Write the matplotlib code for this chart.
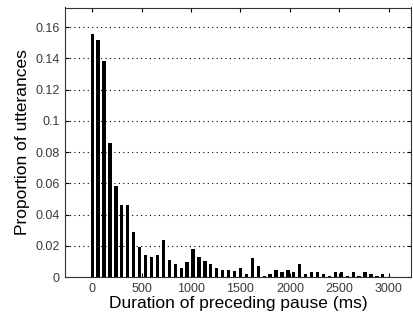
import numpy as np
import matplotlib
matplotlib.use('Agg')
from matplotlib import pyplot as plt

# pause bins (ms), 60 ms wide
pause_ms = np.arange(0, 3000, 60)
# proportion of utterances for each bin
proportion = [
    0.1555, 0.152, 0.138, 0.0855, 0.058, 0.0463, 0.0463, 0.029, 0.0192, 0.014,
    0.0129, 0.014, 0.0234, 0.011, 0.0081, 0.0057, 0.0097, 0.0180, 0.0127, 0.0100,
    0.0083, 0.0057, 0.0044, 0.0044, 0.0038, 0.0057, 0.0017, 0.0120, 0.0068, 0.0006,
    0.0019, 0.0044, 0.0030, 0.0044, 0.0030, 0.0081, 0.0019, 0.0030, 0.0030, 0.0019,
    0.0006, 0.0030, 0.0030, 0.0006, 0.0030, 0.0006, 0.0030, 0.0017, 0.0006, 0.0019,
]
x_ticks = [0, 500, 1000, 1500, 2000, 2500, 3000]
y_ticks = [0, 0.02, 0.04, 0.06, 0.08, 0.1, 0.12, 0.14, 0.16]
y_ticklabels = ['0', '0.02', '0.04', '0.06', '0.08', '0.1', '0.12', '0.14', '0.16']

plt.rcParams['font.family'] = ['Liberation Sans', 'DejaVu Sans']

fig = plt.figure(figsize=(4.13, 3.23), dpi=100)
ax = fig.add_axes([65 / 413, 46 / 323, (411 - 65) / 413, (277 - 7.5) / 323])

ax.bar(pause_ms, proportion, width=33, color='black', zorder=3)

ax.set_xlim(-275, 3225)
ax.set_ylim(0, 0.1725)
ax.set_xticks(x_ticks)
ax.set_yticks(y_ticks)
ax.set_yticklabels(y_ticklabels)

# MATLAB look: dotted horizontal grid, ticks inside on all sides
ax.yaxis.grid(True, linestyle=(0, (1, 3)), color='black', linewidth=0.8)
ax.set_axisbelow(True)
ax.tick_params(axis='both', direction='in', top=True, right=True, length=3,
               labelsize=9, labelcolor='#3a3a3a', pad=4)
for s in ax.spines.values():
    s.set_color('#333333')
    s.set_linewidth(0.8)

ax.set_xlabel('Duration of preceding pause (ms)', fontsize=12.5, labelpad=1)
ax.set_ylabel('Proportion of utterances', fontsize=12.5, labelpad=4)

plt.savefig('out.png', dpi=100)
